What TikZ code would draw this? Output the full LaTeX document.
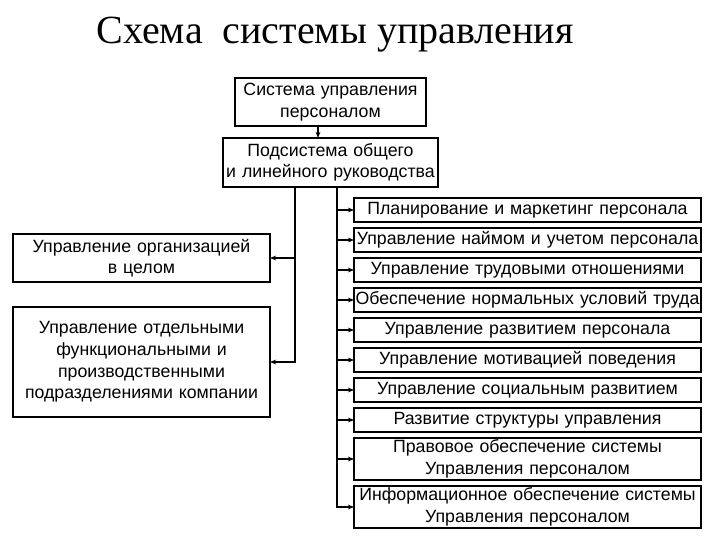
\documentclass[tikz,border=0pt]{standalone}
\usepackage{fontspec}
\setmainfont{Liberation Sans}
\newfontfamily\titlefont{Liberation Serif}
\usetikzlibrary{positioning,arrows.meta}

\tikzset{
  box/.style={draw, line width=1pt, inner sep=0pt, outer sep=0pt, align=center,
    font=\fontsize{13.3}{16.2}\selectfont},
  onebox/.style={box, text width=260.25pt, minimum height=18pt},
  twobox/.style={onebox, minimum height=31.5pt},
  link/.style={line width=1pt},
  arr/.style={link, -{Stealth[length=4.5pt,width=3.5pt]}},
}

\begin{document}
\begin{tikzpicture}[x=0.75pt, y=-0.75pt, node distance=4.5pt]
  \useasboundingbox (0,0) rectangle (720,540);
  \node[anchor=base, font=\titlefont\fontsize{30}{36}\selectfont] (title) at (335,43)
    {Схема\enspace системы управления};

  % top of the tree
  \node[box, text width=143.25pt, minimum height=36pt] (sys) at (330.5,102)
    {Система управления\\персоналом};
  \node[box, text width=161.25pt, minimum height=36.75pt, below=9pt of sys]
    (sub) {Подсистема общего\\и линейного руководства};

  % left column
  \node[box, text width=192.75pt, minimum height=36pt] (orga) at (141.5,258)
    {Управление организацией\\в целом};
  \node[box, text width=192.75pt, minimum height=82.5pt, below=18.75pt of orga] (orgb)
    {Управление отдельными\\функциональными и\\производственными\\подразделениями компании};

  % right column
  \node[onebox] (r1) at (527.5,210) {Планирование и маркетинг персонала};
  \node[onebox, below=of r1] (r2) {Управление наймом и учетом персонала};
  \node[onebox, below=of r2] (r3) {Управление трудовыми отношениями};
  \node[onebox, below=of r3] (r4) {Обеспечение нормальных условий труда};
  \node[onebox, below=of r4] (r5) {Управление развитием персонала};
  \node[onebox, below=of r5] (r6) {Управление мотивацией поведения};
  \node[onebox, below=of r6] (r7) {Управление социальным развитием};
  \node[onebox, below=of r7] (r8) {Развитие структуры управления};
  \node[twobox, below=of r8] (r9) {Правовое обеспечение системы\\Управления персоналом};
  \node[twobox, below=of r9] (r10) {Информационное обеспечение системы\\Управления персоналом};

  \coordinate (lbus) at (295,364);
  \coordinate (rbus) at (337,505);
  \coordinate (down) at (318,130);

  \draw[arr] (sys.south -| down) -- (sub.north -| down);
  \draw[arr] (sub.south -| lbus) |- (orgb.east);
  \draw[arr] (lbus |- orga.east) -- (orga.east);
  \draw[arr] (sub.south -| rbus) |- (r10.west);
  \foreach \i in {1,...,9}
    \draw[arr] (rbus |- r\i.west) -- (r\i.west);
\end{tikzpicture}
\end{document}
